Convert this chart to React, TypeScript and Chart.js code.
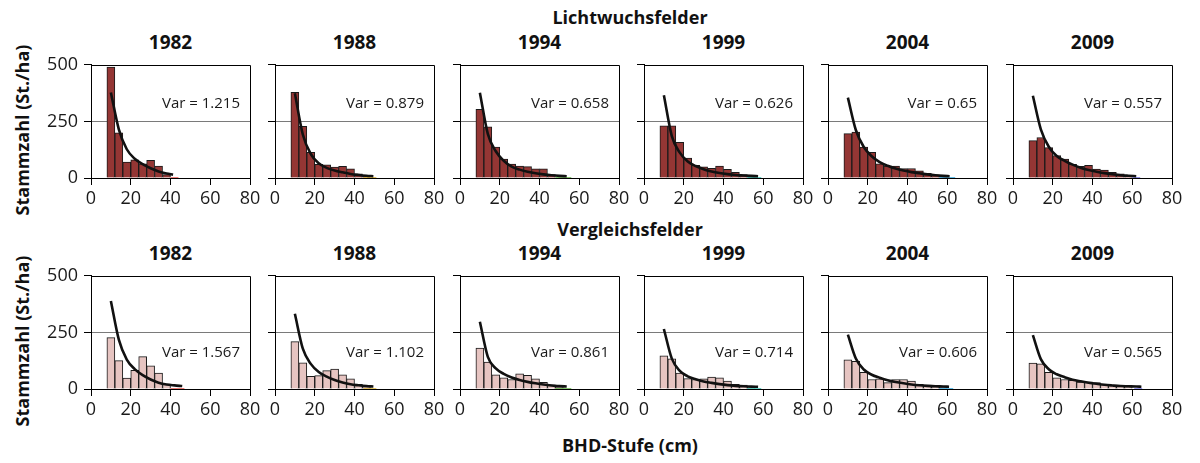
import React, { useEffect, useRef } from 'react';
import { Chart, registerables } from 'chart.js';
Chart.register(...registerables);

// ---------- data ----------
const years = ['1982', '1988', '1994', '1999', '2004', '2009'];
const classCenters = [10, 14, 18, 22, 26, 30, 34, 38, 42, 46, 50, 54, 58, 62, 66];
const xTicks = [0, 20, 40, 60, 80];
const yTicks = [0, 250, 500];

// Lichtwuchsfelder (top row) – bar heights per class centre
const lichtBars: number[][] = [
  [490, 200, 70, 80, 63, 78, 53, 15],
  [378, 228, 113, 60, 58, 48, 52, 40, 18, 8],
  [303, 226, 137, 84, 62, 53, 50, 40, 40, 15],
  [230, 230, 158, 88, 56, 49, 43, 53, 38, 25, 15, 6],
  [196, 203, 137, 113, 63, 53, 53, 42, 42, 32, 21, 14, 8],
  [165, 179, 134, 99, 84, 60, 52, 56, 39, 35, 25, 18, 11],
];
// fitted curve values at class centres, last value at curve end
const lichtCurve: number[][] = [
  [378, 215, 127, 85, 61, 43, 29, 20, 15],
  [374, 192, 106, 65, 45, 33, 25, 18, 13.5, 10, 8],
  [377, 195, 118, 76, 50, 37, 28, 21, 16, 12, 9.3, 8],
  [365, 185, 112, 73, 53, 39, 29, 22, 17, 13, 11, 9.2, 8],
  [355, 212, 137, 96, 70, 54, 42, 33, 26, 21, 16, 12, 9.4, 8],
  [363, 215, 138, 97, 76, 59, 45, 35, 28, 21.5, 16.5, 12.5, 10, 8],
];
const lichtCurveEnd = [41.3, 49.5, 53.7, 57.4, 61.2, 62];
const lichtVar = ['1.215', '0.879', '0.658', '0.626', '0.65', '0.557'];
const lichtTail: number[][] = [[40, 44], [44.5, 51], [48, 56], [52, 59], [56, 64], [60, 64]];

// Vergleichsfelder (bottom row)
const vergBars: number[][] = [
  [227, 125, 48, 83, 143, 102, 70, 22],
  [209, 116, 56, 59, 81, 88, 63, 45, 21, 10],
  [181, 119, 63, 49, 42, 67, 60, 45, 29, 18, 8],
  [147, 133, 70, 46, 42, 45, 53, 49, 35, 21, 17, 11],
  [129, 122, 74, 42, 45, 28, 42, 42, 35, 21, 17, 11, 8],
  [115, 111, 74, 49, 42, 38, 31, 32, 28, 21, 17, 13, 10],
];
const vergCurve: number[][] = [
  [389, 218, 130, 88, 61, 42, 28, 20, 16, 13],
  [332, 178, 111, 75, 55, 40, 29, 21, 16.5, 13, 11],
  [297, 142, 91, 67, 51, 40, 31.5, 25, 19.5, 15.5, 13, 11],
  [265, 134, 80, 56, 43, 33, 27, 21.5, 17, 14, 12, 10.5, 10],
  [240, 135, 86, 63, 50, 39, 31, 25, 20, 16.5, 14, 12, 11, 10],
  [238, 132, 87, 65, 52, 41, 34, 28, 23, 18.5, 15.5, 13, 12, 11, 10],
];
const vergCurveEnd = [45.9, 49.5, 53.7, 57.4, 60.9, 64.6];
const vergVar = ['1.567', '1.102', '0.861', '0.714', '0.606', '0.565'];
const vergTail: number[][] = [[40, 47], [44.5, 51], [48, 56], [52, 59], [56, 63], [61, 65]];

const tailColors = ['#e8504a', '#d9b030', '#5bb040', '#30c0b0', '#30a8e0', '#7070e0'];
const rowFill = ['#943634', '#e6c4c1'];
const sectionTitles = ['Lichtwuchsfelder', 'Vergleichsfelder'];

// ---------- layout ----------
const COL_LEFT = [91, 275, 460, 644, 828, 1013];
const ROW_TOP = [58, 269];
const PLOT_W = 159;
const PLOT_H = 120;
const Y_W = 50;
const PAD_T = 10;
const PAD_R = 25;
const X_H = 36;
const FONT = '"Open Sans", "DejaVu Sans", sans-serif';
const CLEAR = 'rgba(0,0,0,0)';

function Panel({ row, col }: { row: number; col: number }) {
  const ref = useRef<HTMLCanvasElement>(null);
  useEffect(() => {
    const bars = row === 0 ? lichtBars[col] : vergBars[col];
    const curve = row === 0 ? lichtCurve[col] : vergCurve[col];
    const curveEnd = row === 0 ? lichtCurveEnd[col] : vergCurveEnd[col];
    const tail = row === 0 ? lichtTail[col] : vergTail[col];
    const varText = row === 0 ? lichtVar[col] : vergVar[col];
    const barData = bars.map((v, i) => ({ x: classCenters[i], y: v }));
    const curveData = curve.map((v, i) => ({
      x: i === curve.length - 1 ? curveEnd : classCenters[i],
      y: v,
    }));
    const tailData = tail.map((x) => ({ x, y: 0 }));

    const framePlugin = {
      id: 'frameAndVar',
      afterDatasetsDraw(chart: any) {
        const { ctx, chartArea, scales } = chart;
        ctx.save();
        ctx.strokeStyle = '#000';
        ctx.lineWidth = 1;
        const l = Math.round(chartArea.left) + 0.5;
        const t = Math.round(chartArea.top) + 0.5;
        const r = Math.round(chartArea.right) + 0.5;
        ctx.beginPath();
        ctx.moveTo(l, t);
        ctx.lineTo(r, t);
        ctx.lineTo(r, Math.round(chartArea.bottom) + 0.5);
        ctx.stroke();
        ctx.font = `15px ${FONT}`;
        ctx.fillStyle = '#1a1a1a';
        ctx.textAlign = 'right';
        ctx.textBaseline = 'middle';
        ctx.fillText('Var = ' + varText, chartArea.right - 10, scales.y.getPixelForValue(row === 0 ? 330 : 160));
        ctx.restore();
      },
    };

    const chart = new Chart(ref.current as HTMLCanvasElement, {
      type: 'bar',
      data: {
        datasets: [
          {
            type: 'line',
            data: curveData,
            borderColor: '#111',
            borderWidth: 2.6,
            pointRadius: 0,
            cubicInterpolationMode: 'monotone',
            order: 0,
          } as any,
          {
            type: 'line',
            data: tailData,
            borderColor: tailColors[col],
            borderWidth: 1.5,
            pointRadius: 0,
            order: 1,
          } as any,
          {
            type: 'bar',
            data: barData,
            backgroundColor: rowFill[row],
            borderColor: '#1a1a1a',
            borderWidth: 1,
            barPercentage: 1,
            categoryPercentage: 1,
            order: 2,
          } as any,
        ],
      },
      options: {
        animation: false,
        responsive: false,
        events: [],
        layout: { padding: { left: 0, right: PAD_R, top: PAD_T, bottom: 0 } },
        plugins: { legend: { display: false }, tooltip: { enabled: false }, title: { display: false } },
        scales: {
          x: {
            type: 'linear',
            min: 0,
            max: 80,
            offset: false,
            afterBuildTicks: (s: any) => {
              s.ticks = xTicks.map((v) => ({ value: v }));
            },
            grid: {
              offset: false,
              color: CLEAR,
              tickColor: '#000',
              tickLength: 7,
              lineWidth: 1,
            },
            border: { color: '#000', width: 1 },
            ticks: {
              font: { family: FONT, size: 18 },
              color: '#1a1a1a',
              padding: 3,
              maxRotation: 0,
              autoSkip: false,
            },
            afterFit: (s: any) => {
              s.height = X_H;
              s.paddingLeft = 0;
              s.paddingRight = 0;
            },
          },
          y: {
            type: 'linear',
            min: 0,
            max: 500,
            afterBuildTicks: (s: any) => {
              s.ticks = yTicks.map((v) => ({ value: v }));
            },
            grid: {
              color: (c: any) => (c.tick && c.tick.value === 250 ? '#7a7a7a' : CLEAR),
              tickColor: '#000',
              tickLength: 7,
              lineWidth: 1,
            },
            border: { color: '#000', width: 1 },
            ticks: {
              font: { family: FONT, size: 18 },
              color: '#1a1a1a',
              padding: 6,
              callback: (v: any) => (col === 0 ? String(v) : ''),
            },
            afterFit: (s: any) => {
              s.width = Y_W;
            },
          },
        },
      } as any,
      plugins: [framePlugin],
    });
    return () => chart.destroy();
  }, [row, col]);

  const W = Y_W + PLOT_W + PAD_R;
  const H = PAD_T + PLOT_H + X_H;
  return (
    <canvas
      ref={ref}
      width={W}
      height={H}
      style={{
        position: 'absolute',
        left: COL_LEFT[col] - Y_W,
        top: ROW_TOP[row] - PAD_T,
        width: W,
        height: H,
      }}
    />
  );
}

function Label({ text, x, y, size, bold, rotate }: { text: string; x: number; y: number; size: number; bold?: boolean; rotate?: boolean }) {
  return (
    <div
      style={{
        position: 'absolute',
        left: x,
        top: y,
        transform: `translate(-50%, -50%)${rotate ? ' rotate(-90deg)' : ''}`,
        fontFamily: FONT,
        fontSize: size,
        fontWeight: bold ? 700 : 400,
        color: '#111',
        whiteSpace: 'nowrap',
        lineHeight: 1,
      }}
    >
      {text}
    </div>
  );
}

export default function App() {
  const rows = [0, 1];
  return (
    <div style={{ position: 'fixed', left: 0, top: 0, width: 1200, height: 463, background: '#fff', overflow: 'hidden' }}>
      <Label text={sectionTitles[0]} x={630} y={17} size={18} bold />
      <Label text={sectionTitles[1]} x={630} y={229} size={18} bold />
      {rows.map((r) =>
        years.map((yr, c) => (
          <Label key={`t${r}-${c}`} text={yr} x={COL_LEFT[c] + PLOT_W / 2} y={ROW_TOP[r] - 16} size={19} bold />
        ))
      )}
      <Label text="Stammzahl (St./ha)" x={22} y={130} size={18} bold rotate />
      <Label text="Stammzahl (St./ha)" x={22} y={341} size={18} bold rotate />
      <Label text="BHD-Stufe (cm)" x={630} y={445} size={18} bold />
      {rows.map((r) => years.map((_, c) => <Panel key={`p${r}-${c}`} row={r} col={c} />))}
    </div>
  );
}
